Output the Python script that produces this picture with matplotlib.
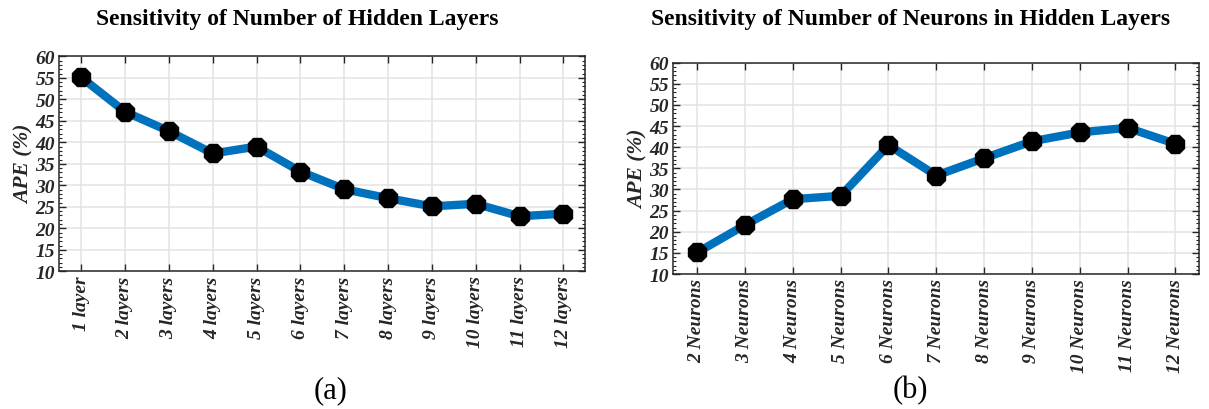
import matplotlib.pyplot as plt
from matplotlib.ticker import MultipleLocator

plt.rcParams['font.family'] = ['Liberation Serif', 'DejaVu Serif']

# hidden layer sweep
layer_labels = ['1 layer', '2 layers', '3 layers', '4 layers', '5 layers', '6 layers',
                '7 layers', '8 layers', '9 layers', '10 layers', '11 layers', '12 layers']
layer_ape = [55.1, 47.1, 42.6, 37.4, 39.0, 33.2, 29.1, 27.0, 25.1, 25.7, 22.8, 23.4]

# neuron count sweep
neuron_labels = ['2 Neurons', '3 Neurons', '4 Neurons', '5 Neurons', '6 Neurons', '7 Neurons',
                 '8 Neurons', '9 Neurons', '10 Neurons', '11 Neurons', '12 Neurons']
neuron_ape = [15.1, 21.6, 27.7, 28.5, 40.5, 33.3, 37.4, 41.4, 43.5, 44.6, 40.8]

W, H = 1209, 410
fig = plt.figure(figsize=(W / 100, H / 100), dpi=100)

ax_a = fig.add_axes([59.3 / W, 1 - 272.3 / H, 526 / W, 215 / H])
ax_b = fig.add_axes([673.3 / W, 1 - 275 / H, 526 / W, 211.3 / H])

blue = '#0072BD'
txt = '#262626'


def style(ax, labels, values):
    x = list(range(1, len(values) + 1))
    ax.plot(x, values, '-', color=blue, linewidth=6, zorder=3)
    ax.plot(x, values, '8', color='black', markersize=14.5, zorder=4)
    ax.set_xlim(0.5, len(values) + 0.5)
    ax.set_ylim(10, 60)
    ax.set_xticks(x)
    ax.set_xticklabels(labels, rotation=90, fontsize=14, fontweight='bold',
                       fontstyle='italic', color=txt)
    ax.yaxis.set_major_locator(MultipleLocator(5))
    ax.yaxis.set_minor_locator(MultipleLocator(1))
    for lab in ax.get_yticklabels():
        lab.set_fontsize(14)
        lab.set_fontweight('bold')
        lab.set_fontstyle('italic')
        lab.set_color(txt)
    ax.tick_params(which='major', direction='in', length=5, width=1,
                   top=True, right=True, color=txt, pad=3)
    ax.tick_params(which='minor', direction='in', length=2.5, width=0.8,
                   right=True, left=True, color=txt)
    ax.tick_params(axis='x', which='minor', bottom=False, top=False)
    ax.grid(True, which='major', color='#e3e3e3', linewidth=1.1)
    ax.set_axisbelow(True)
    for s in ax.spines.values():
        s.set_color(txt)
        s.set_linewidth(1.1)
    ax.set_ylabel('APE (%)', fontsize=15.5, fontweight='bold', fontstyle='italic',
                  color=txt, labelpad=1)


style(ax_a, layer_labels, layer_ape)
style(ax_b, neuron_labels, neuron_ape)

fig.text(297 / W, 1 - 19 / H, 'Sensitivity of Number of Hidden Layers',
         ha='center', va='center', fontsize=17, fontweight='bold', color='black')
fig.text(911 / W, 1 - 20 / H, 'Sensitivity of Number of Neurons in Hidden Layers',
         ha='center', va='center', fontsize=17, fontweight='bold', color='black')

fig.text(331 / W, 1 - 391 / H, '(a)', ha='center', va='center', fontsize=22)
fig.text(910 / W, 1 - 391 / H, '(b)', ha='center', va='center', fontsize=22)

fig.savefig('out.png', dpi=100)
